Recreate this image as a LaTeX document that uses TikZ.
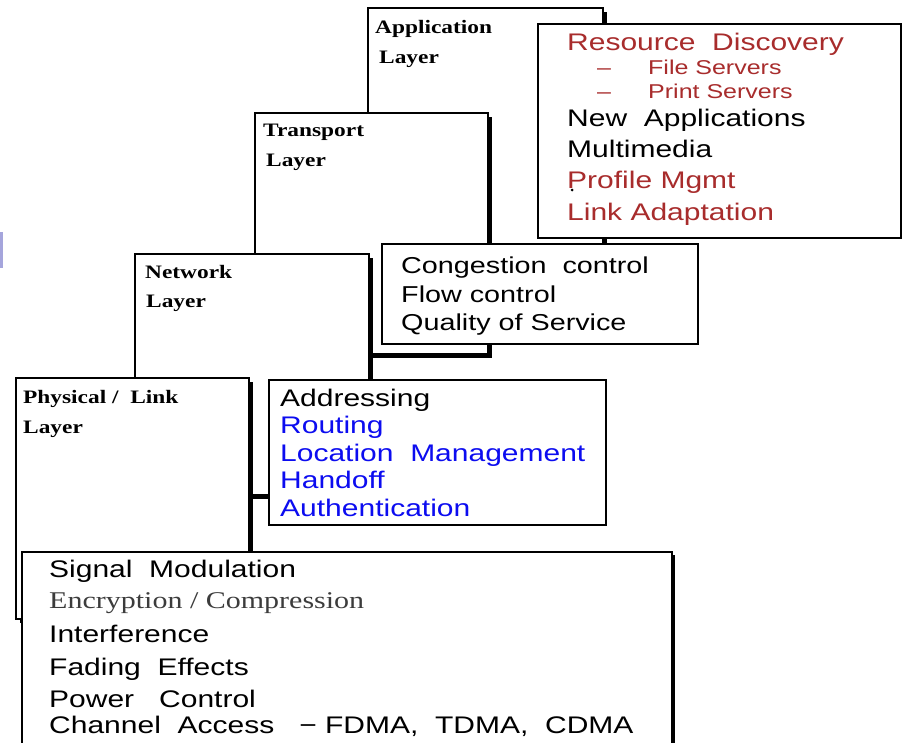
\documentclass[tikz,border=0pt]{standalone}
\usepackage{fontspec}
\setmainfont{Liberation Serif}
\newfontfamily\arialx{Liberation Sans}[FakeStretch=1.25]
\newfontfamily\timesx{Liberation Serif}[FakeStretch=1.25]
\newfontfamily\timesbx{Liberation Serif Bold}[FakeStretch=1.23]
\usetikzlibrary{shadows}
\definecolor{dred}{RGB}{168,44,44}
\definecolor{mblue}{RGB}{12,12,240}
\definecolor{egray}{RGB}{60,60,60}
\definecolor{lav}{RGB}{165,165,220}
\tikzset{
  layerbox/.style={draw, fill=white, line width=2pt, anchor=north west, inner sep=0pt,
    drop shadow={shadow xshift=3.5pt, shadow yshift=-3.5pt, fill=black, opacity=1}},
  infobox/.style={draw, fill=white, line width=1.7pt, anchor=north west, inner sep=0pt},
  sigbox/.style={infobox, line width=2pt, drop shadow={shadow xshift=3pt, shadow yshift=-3pt, fill=black, opacity=1}},
  lbl/.style={anchor=base west, inner sep=0pt, font=\timesbx\fontsize{19}{19}\selectfont},
  itm/.style={anchor=base west, inner sep=0pt, font=\arialx\fontsize{24}{24}\selectfont},
  itmc/.style={itm, font=\arialx\fontsize{23}{23}\selectfont},
  sub/.style={anchor=base west, inner sep=0pt, font=\arialx\fontsize{20}{20}\selectfont, text=dred},
  ser/.style={anchor=base west, inner sep=0pt, font=\timesx\fontsize{24}{24}\selectfont, text=egray}
}
\begin{document}
\begin{tikzpicture}[x=1pt,y=-1pt]
\useasboundingbox (0,0) rectangle (902,742);
\fill[lav] (0,232) rectangle (2.5,268);
% layer boxes
\node[layerbox, minimum width=235pt, minimum height=293pt] (app) at (367,7) {};
\node[lbl] (appl1) at (375,33) {Application};
\node[lbl] (appl2) at (379,63) {Layer};
\node[layerbox, minimum width=233pt, minimum height=241pt] (trans) at (254,112) {};
\node[lbl] (transl1) at (263,136) {Transport};
\node[lbl] (transl2) at (266,166) {Layer};
\node[layerbox, minimum width=234pt, minimum height=241pt] (net) at (134,253) {};
\node[lbl] (netl1) at (145,278) {Network};
\node[lbl] (netl2) at (146,307) {Layer};
\node[layerbox, minimum width=233pt, minimum height=241pt] (phys) at (15,377) {};
\node[lbl] (physl1) at (23,403) {Physical /~ Link};
\node[lbl] (physl2) at (23,433) {Layer};
% application items
\node[infobox, minimum width=363pt, minimum height=214pt] (res) at (537,23) {};
\node[itm, text=dred] (r1) at (567,50) {Resource~ Discovery};
\node[sub] (r2d) at (597,74) {–};
\node[sub] (r2) at (648,74) {File Servers};
\node[sub] (r3d) at (597,98) {–};
\node[sub] (r3) at (648,98) {Print Servers};
\node[itm] (r4) at (567,126) {New~ Applications};
\node[itm] (r5) at (567,157) {Multimedia};
\node[itm, text=dred] (r6) at (567,188) {Profile Mgmt};
\fill (572,190) circle (1.5);
\node[itm, text=dred] (r7) at (567,220) {Link Adaptation};
% transport items
\node[infobox, minimum width=316pt, minimum height=100pt] (cong) at (381,243) {};
\node[itmc] (c1) at (401,273) {Congestion~ control};
\node[itmc] (c2) at (401,302) {Flow control};
\node[itmc] (c3) at (401,330) {Quality of Service};
% network items
\node[infobox, minimum width=337pt, minimum height=145pt] (addr) at (268,379) {};
\node[itm] (a1) at (280,406) {Addressing};
\node[itm, text=mblue] (a2) at (280,433) {Routing};
\node[itm, text=mblue] (a3) at (280,461) {Location~ Management};
\node[itm, text=mblue] (a4) at (280,488) {Handoff};
\node[itm, text=mblue] (a5) at (280,516) {Authentication};
% physical items
\node[sigbox, minimum width=650pt, minimum height=210pt] (sig) at (21,551) {};
\node[itm] (s1) at (49,577) {Signal~ Modulation};
\node[ser] (s2) at (49,608) {Encryption / Compression};
\node[itm] (s3) at (49,642) {Interference};
\node[itm] (s4) at (49,675) {Fading~ Effects};
\node[itm] (s5) at (49,707) {Power~~ Control};
\node[itm] (s6) at (49,733) {Channel~ Access~~ − FDMA,~ TDMA,~ CDMA};
\end{tikzpicture}
\end{document}
